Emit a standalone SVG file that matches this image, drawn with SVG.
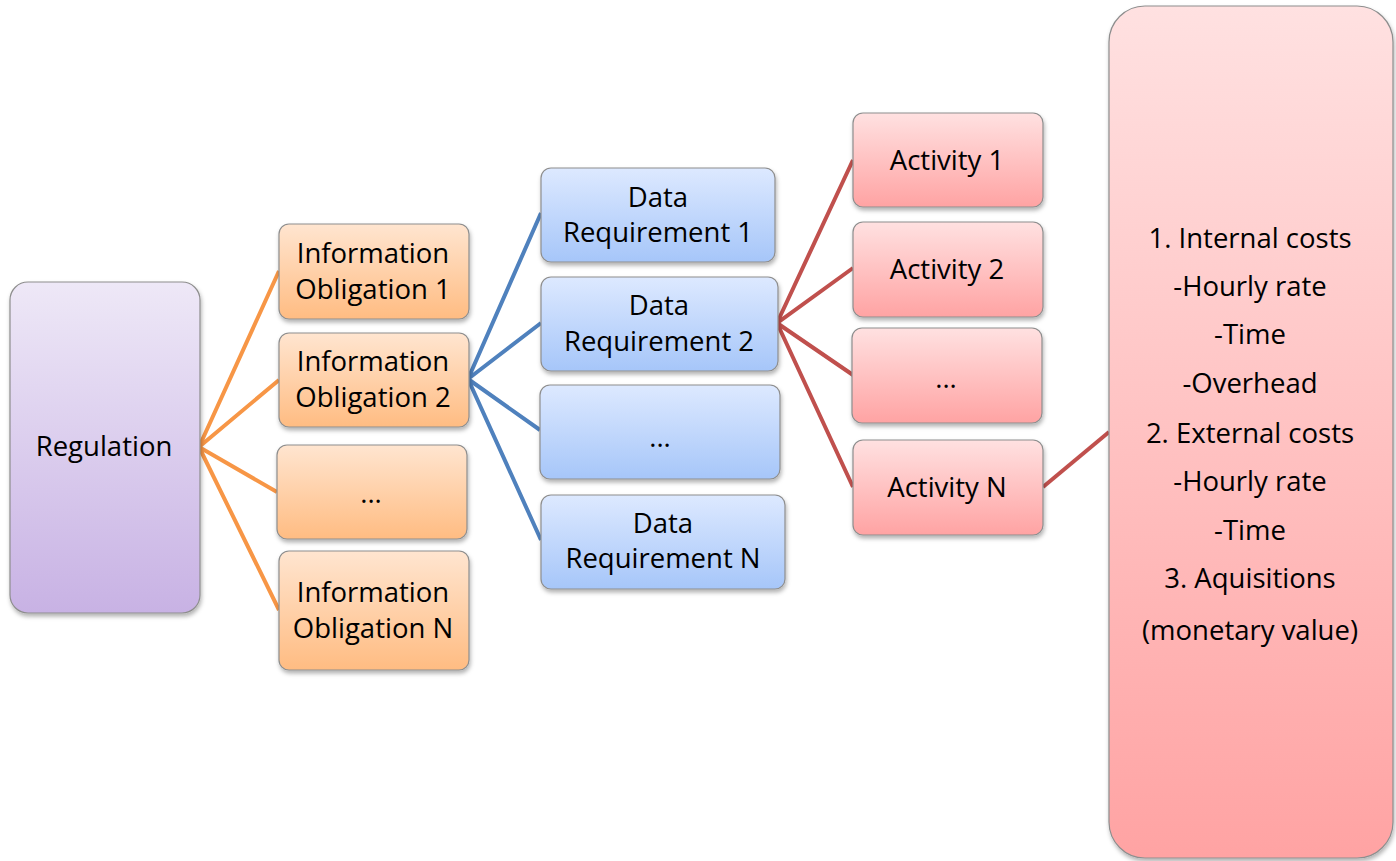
<svg xmlns="http://www.w3.org/2000/svg" width="1396" height="861" viewBox="0 0 1396 861">
<defs>
<linearGradient id="gP" x1="0" y1="0" x2="0" y2="1"><stop offset="0" stop-color="#EEE8F7"/><stop offset="1" stop-color="#C8B2E4"/></linearGradient>
<linearGradient id="gO" x1="0" y1="0" x2="0" y2="1"><stop offset="0" stop-color="#FFE5D0"/><stop offset="1" stop-color="#FFBC82"/></linearGradient>
<linearGradient id="gB" x1="0" y1="0" x2="0" y2="1"><stop offset="0" stop-color="#DDE9FF"/><stop offset="1" stop-color="#A6C6F9"/></linearGradient>
<linearGradient id="gR" x1="0" y1="0" x2="0" y2="1"><stop offset="0" stop-color="#FFE1E1"/><stop offset="1" stop-color="#FFA3A3"/></linearGradient>
<filter id="sh" x="-10%" y="-10%" width="130%" height="130%"><feDropShadow dx="1" dy="3" stdDeviation="2" flood-color="#000" flood-opacity="0.3"/></filter>
</defs>
<style>
.box{stroke:#8E8E8E;stroke-width:1.2;filter:url(#sh)}
.p{fill:url(#gP)}.o{fill:url(#gO)}.b{fill:url(#gB)}.r{fill:url(#gR)}
text{font-family:"Open Sans","Noto Sans","Liberation Sans",sans-serif;font-size:27.5px;fill:#000;text-anchor:middle}
.lo{stroke:#F79646;stroke-width:4;fill:none}
.lb{stroke:#4F81BD;stroke-width:4;fill:none}
.lr{stroke:#C0504D;stroke-width:4;fill:none}
</style>
<rect width="1396" height="861" fill="#fff"/>
<g id="connectors">
<path class="lo" d="M279 271L199 447L279 380M199 447L277 492M199 447L279 610"/>
<path class="lb" d="M541 213L468 379L541 323M468 379L540 430M468 379L541 540"/>
<path class="lr" d="M853 160L777 323L853 268M777 323L853 375M777 323L853 487"/>
<path class="lr" d="M1043 487L1109 432"/>
</g>
<g id="regulation"><rect class="box p" x="10" y="282" width="190" height="331" rx="18"/><text x="104" y="456">Regulation</text></g>
<g id="io1"><rect class="box o" x="279" y="224" width="190" height="95" rx="10"/><text x="373" y="263">Information</text><text x="373" y="299">Obligation 1</text></g>
<g id="io2"><rect class="box o" x="279" y="333" width="190" height="94" rx="10"/><text x="373" y="371">Information</text><text x="373" y="407">Obligation 2</text></g>
<g id="io3"><rect class="box o" x="277" y="445" width="190" height="94" rx="10"/><text x="371" y="503">...</text></g>
<g id="ioN"><rect class="box o" x="279" y="551" width="190" height="119" rx="10"/><text x="373" y="602">Information</text><text x="373" y="638">Obligation N</text></g>
<g id="dr1"><rect class="box b" x="541" y="168" width="234" height="94" rx="10"/><text x="658" y="207">Data</text><text x="658" y="242">Requirement 1</text></g>
<g id="dr2"><rect class="box b" x="541" y="277" width="237" height="94" rx="10"/><text x="659" y="315">Data</text><text x="659" y="351">Requirement 2</text></g>
<g id="dr3"><rect class="box b" x="540" y="385" width="240" height="94" rx="10"/><text x="660" y="447">...</text></g>
<g id="drN"><rect class="box b" x="541" y="495" width="244" height="94" rx="10"/><text x="663" y="533">Data</text><text x="663" y="568">Requirement N</text></g>
<g id="a1"><rect class="box r" x="853" y="113" width="190" height="94" rx="10"/><text x="947" y="170">Activity 1</text></g>
<g id="a2"><rect class="box r" x="853" y="222" width="190" height="95" rx="10"/><text x="947" y="279">Activity 2</text></g>
<g id="a3"><rect class="box r" x="852" y="328" width="190" height="95" rx="10"/><text x="946" y="388">...</text></g>
<g id="aN"><rect class="box r" x="853" y="440" width="190" height="95" rx="10"/><text x="947" y="497">Activity N</text></g>
<g id="costs"><rect class="box r" x="1109" y="6" width="284" height="852" rx="36"/>
<text x="1250" y="248">1. Internal costs</text>
<text x="1250" y="296">-Hourly rate</text>
<text x="1250" y="344">-Time</text>
<text x="1250" y="393">-Overhead</text>
<text x="1250" y="443">2. External costs</text>
<text x="1250" y="491">-Hourly rate</text>
<text x="1250" y="540">-Time</text>
<text x="1250" y="588">3. Aquisitions</text>
<text x="1250" y="640">(monetary value)</text>
</g>
</svg>
